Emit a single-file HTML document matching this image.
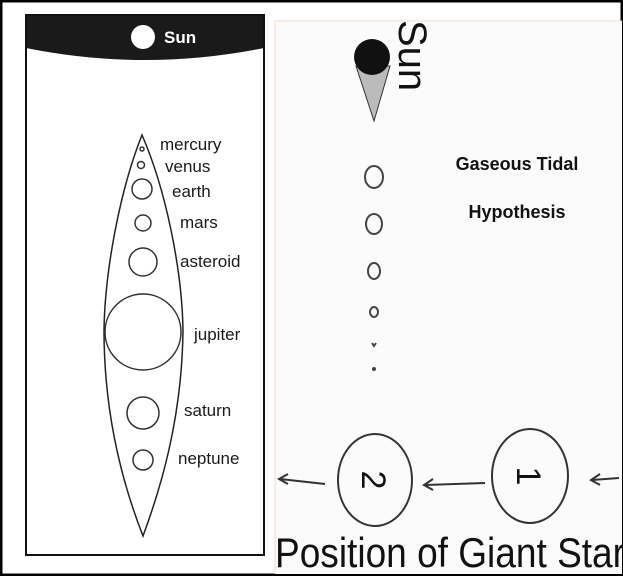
<!DOCTYPE html>
<html><head><meta charset="utf-8"><style>
html,body{margin:0;padding:0;background:#fff}
svg{display:block}
</style></head><body>
<svg width="623" height="576" viewBox="0 0 623 576" xmlns="http://www.w3.org/2000/svg" font-family="Liberation Sans, sans-serif">
<rect x="0" y="0" width="623" height="576" fill="#fff"/>
<rect x="1" y="1" width="621" height="574" fill="none" stroke="#000" stroke-width="3"/>
<!-- Left panel -->
<path d="M26 15 H264 V48 Q145 72 26 48 Z" fill="#1a1a1a"/>
<rect x="26" y="15" width="238" height="540" fill="none" stroke="#111" stroke-width="2"/>
<circle cx="143" cy="37" r="12" fill="#fff"/>
<text x="164" y="43" fill="#fff" font-size="17" font-weight="bold">Sun</text>
<path d="M142 135 C 120 190 105 270 104 330 C 104 420 125 490 143 536 C 160 490 182 420 183 330 C 182 270 166 190 142 135 Z" fill="none" stroke="#222" stroke-width="1.5"/>
<g fill="none" stroke="#333" stroke-width="1.5">
<circle cx="142" cy="149" r="2"/>
<circle cx="141" cy="165" r="3.5"/>
<circle cx="142" cy="189" r="10"/>
<circle cx="143" cy="223" r="8"/>
<circle cx="143" cy="262" r="14"/>
<circle cx="143" cy="332" r="38"/>
<circle cx="143" cy="413" r="16"/>
<circle cx="143" cy="460" r="10"/>
</g>
<g font-size="17" fill="#1a1a1a">
<text x="160" y="150">mercury</text>
<text x="165" y="172">venus</text>
<text x="172" y="197">earth</text>
<text x="180" y="228">mars</text>
<text x="180" y="267">asteroid</text>
<text x="194" y="340">jupiter</text>
<text x="184" y="416">saturn</text>
<text x="178" y="464">neptune</text>
</g>
<!-- Right panel -->
<rect x="275" y="21" width="347" height="553" fill="#fbfbfb"/>
<line x1="275" y1="21" x2="275" y2="574" stroke="#f0d8cc" stroke-width="1"/>
<line x1="275" y1="21" x2="622" y2="21" stroke="#f0d8cc" stroke-width="1"/>
<path d="M356 66 L374 121 L390 66 Z" fill="#bbb" stroke="#333" stroke-width="1"/>
<circle cx="372" cy="57" r="18" fill="#111"/>
<text transform="translate(399,20) rotate(90)" font-size="40" fill="#111">Sun</text>
<g font-size="18" font-weight="bold" fill="#111" text-anchor="middle">
<text x="517" y="170">Gaseous Tidal</text>
<text x="517" y="218">Hypothesis</text>
</g>
<g fill="none" stroke="#444" stroke-width="2">
<ellipse cx="374" cy="177" rx="9" ry="11"/>
<ellipse cx="374" cy="224" rx="8" ry="10"/>
<ellipse cx="374" cy="271" rx="6" ry="8"/>
<ellipse cx="374" cy="312" rx="4" ry="5"/>
<path d="M372 343 L374 346 L376 343"/>
</g>
<circle cx="374" cy="369" r="2" fill="#444"/>
<g fill="none" stroke="#333" stroke-width="2">
<ellipse cx="375" cy="480" rx="37" ry="46"/>
<ellipse cx="530" cy="476" rx="38" ry="47"/>
<line x1="325" y1="484" x2="280" y2="479"/>
<path d="M288 474 L279 479 L288 484"/>
<line x1="485" y1="483" x2="425" y2="485"/>
<path d="M433 479 L424 485 L433 490"/>
<line x1="619" y1="478" x2="592" y2="480"/>
<path d="M600 474 L591 480 L600 485"/>
</g>
<text transform="translate(362,480) rotate(90)" font-size="34" fill="#111" text-anchor="middle">2</text>
<text transform="translate(517,476) rotate(90)" font-size="34" fill="#111" text-anchor="middle">1</text>
<text x="275" y="567" font-size="42" fill="#111" textLength="350" lengthAdjust="spacingAndGlyphs">Position of Giant Star</text>
</svg>
</body></html>
